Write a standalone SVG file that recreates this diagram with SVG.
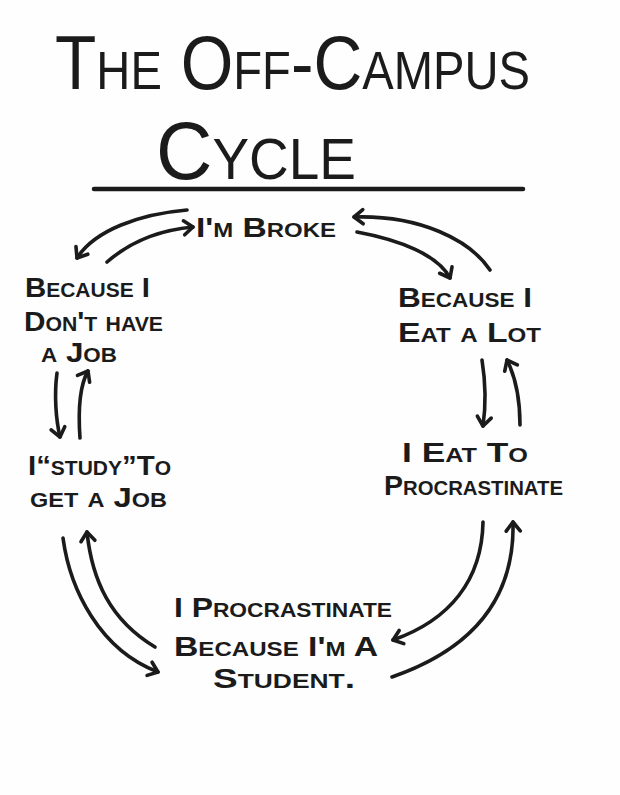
<svg xmlns="http://www.w3.org/2000/svg" width="620" height="795" viewBox="0 0 620 795">
  <defs>
    <marker id="head" markerUnits="userSpaceOnUse" markerWidth="30" markerHeight="30" refX="0" refY="0" orient="auto" overflow="visible" viewBox="-15 -15 30 30">
      <path d="M-9,-7 L0,0 L-9,7" fill="none" stroke="#1b1b1b" stroke-width="3.6" stroke-linecap="round" stroke-linejoin="round"/>
    </marker>
    <style>
      .title { font-family: "Liberation Sans", Arial, sans-serif; font-variant: small-caps; fill: #1b1b1b; }
      .lbl { font-family: "Liberation Sans", Arial, sans-serif; font-variant: small-caps; font-size: 28px; font-weight: bold; fill: #1b1b1b; }
      .conn path { fill: none; stroke: #1b1b1b; stroke-width: 3.6; stroke-linecap: round; marker-end: url(#head); }
    </style>
  </defs>
  <rect x="0" y="0" width="620" height="795" fill="#fefefe"/>

  <g id="title">
    <text class="title" x="55" y="89" font-size="76" textLength="475" lengthAdjust="spacingAndGlyphs">The Off-Campus</text>
    <text class="title" x="156" y="179" font-size="81" textLength="200" lengthAdjust="spacingAndGlyphs">Cycle</text>
    <line x1="94" y1="189" x2="523" y2="189" stroke="#1b1b1b" stroke-width="4.5" stroke-linecap="round"/>
  </g>

  <g id="node-broke">
    <text class="lbl" x="196" y="237" textLength="140" lengthAdjust="spacingAndGlyphs">I'm Broke</text>
  </g>
  <g id="node-nojob">
    <text class="lbl" x="25" y="297" textLength="125" lengthAdjust="spacingAndGlyphs">Because I</text>
    <text class="lbl" x="24" y="331" textLength="139" lengthAdjust="spacingAndGlyphs">Don't have</text>
    <text class="lbl" x="41" y="362" textLength="76" lengthAdjust="spacingAndGlyphs">a Job</text>
  </g>
  <g id="node-eatalot">
    <text class="lbl" x="398" y="307" textLength="134" lengthAdjust="spacingAndGlyphs">Because I</text>
    <text class="lbl" x="398" y="342" textLength="143" lengthAdjust="spacingAndGlyphs">Eat a Lot</text>
  </g>
  <g id="node-study">
    <text class="lbl" x="28" y="475" textLength="143" lengthAdjust="spacingAndGlyphs">I“study”To</text>
    <text class="lbl" x="30" y="507" textLength="137" lengthAdjust="spacingAndGlyphs">get a Job</text>
  </g>
  <g id="node-eatto">
    <text class="lbl" x="402" y="462" textLength="126" lengthAdjust="spacingAndGlyphs">I Eat To</text>
    <text class="lbl" x="384" y="495" textLength="179" lengthAdjust="spacingAndGlyphs">Procrastinate</text>
  </g>
  <g id="node-student">
    <text class="lbl" x="174" y="617" textLength="218" lengthAdjust="spacingAndGlyphs">I Procrastinate</text>
    <text class="lbl" x="174" y="656" textLength="204" lengthAdjust="spacingAndGlyphs">Because I'm A</text>
    <text class="lbl" x="213" y="688" textLength="142" lengthAdjust="spacingAndGlyphs">Student.</text>
  </g>

  <g id="connectors" class="conn">
    <path d="M187,210 C140,214 95,230 77,258"/>
    <path d="M107,262 C130,242 160,230 193,227"/>
    <path d="M490,270 C470,240 420,215 354,217"/>
    <path d="M357,232 C400,240 438,255 450,278"/>
    <path d="M57,373 C54,395 56,420 60,437"/>
    <path d="M80,438 C78,410 80,385 88,371"/>
    <path d="M482,360 C486,385 486,405 483,426"/>
    <path d="M520,425 C520,400 517,380 507,360"/>
    <path d="M63,538 C70,590 100,650 158,672"/>
    <path d="M155,647 C110,620 92,580 87,532"/>
    <path d="M483,522 C482,580 450,620 393,640"/>
    <path d="M392,677 C470,650 515,600 513,522"/>
  </g>
</svg>
